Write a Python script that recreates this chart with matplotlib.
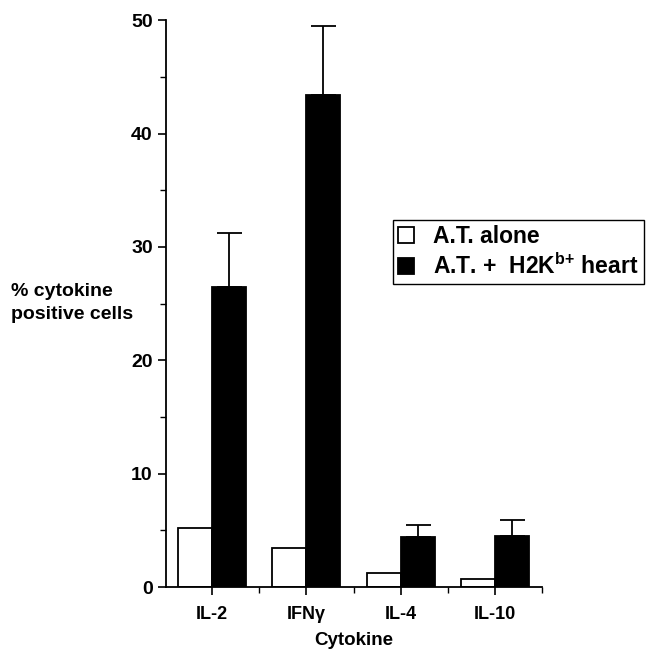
import numpy as np
import matplotlib
matplotlib.use("Agg")
import matplotlib.pyplot as plt
from matplotlib.ticker import MultipleLocator, FixedLocator

plt.rcParams['font.family'] = ['Liberation Sans', 'DejaVu Sans']
plt.rcParams['font.weight'] = 'bold'
plt.rcParams['mathtext.fontset'] = 'custom'
plt.rcParams['mathtext.rm'] = 'Liberation Sans:bold'
plt.rcParams['mathtext.bf'] = 'Liberation Sans:bold'

# values
cytokines = ['IL-2', 'IFNγ', 'IL-4', 'IL-10']
at_alone = [5.2, 3.4, 1.2, 0.75]
at_heart = [26.5, 43.4, 4.4, 4.5]
at_heart_err = [4.7, 6.1, 1.1, 1.4]
series_names = ['A.T. alone', r'A.T. +  H2K$^{\mathrm{b{+}}}$ heart']

fig = plt.figure(figsize=(6.47, 6.5), dpi=100)
ax = fig.add_axes([0.2566, 0.0969, 0.581, 0.872])

x = np.arange(len(cytokines))
w = 0.36
ax.bar(x - w / 2, at_alone, w, color='white', edgecolor='black', linewidth=1.3,
       label=series_names[0])
ax.bar(x + w / 2, at_heart, w, color='black', edgecolor='black', linewidth=1.3,
       label=series_names[1],
       yerr=[np.zeros(len(at_heart_err)), at_heart_err],
       error_kw=dict(ecolor='black', elinewidth=1.3, capsize=9, capthick=1.3))

ax.set_xlim(-0.49, 3.5)
ax.set_ylim(0, 50)
ax.spines['top'].set_visible(False)
ax.spines['right'].set_visible(False)
ax.spines['left'].set_linewidth(1.3)
ax.spines['bottom'].set_linewidth(1.3)

ax.set_xticks(x)
ax.set_xticklabels(cytokines, fontsize=13, fontweight='bold')
ax.xaxis.set_minor_locator(FixedLocator([0.5, 1.5, 2.5, 3.5]))
ax.yaxis.set_major_locator(MultipleLocator(10))
ax.yaxis.set_minor_locator(MultipleLocator(5))
ax.tick_params(axis='both', which='major', direction='out', length=6, width=1.2)
ax.tick_params(axis='y', labelsize=14)
ax.tick_params(axis='both', which='minor', direction='out', length=4, width=1.0)
ax.tick_params(axis='x', pad=8)
for lab in ax.get_yticklabels():
    lab.set_fontweight('bold')

ax.set_xlabel('Cytokine', fontsize=13.5, fontweight='bold', labelpad=6)
fig.text(0.017, 0.534, '% cytokine\npositive cells', fontsize=14, fontweight='bold',
         ha='left', va='center', multialignment='left', linespacing=1.45)

leg = ax.legend(loc='upper left', bbox_to_anchor=(0.607, 0.662),
                bbox_transform=fig.transFigure, fancybox=False, framealpha=1,
                edgecolor='black', fontsize=16.5, handlelength=0.7, handleheight=0.7,
                handletextpad=0.8, borderpad=0.25, labelspacing=0.2, borderaxespad=0)
leg.get_frame().set_linewidth(1.0)
for t in leg.get_texts():
    t.set_fontweight('bold')

fig.savefig('out.png', dpi=100)
